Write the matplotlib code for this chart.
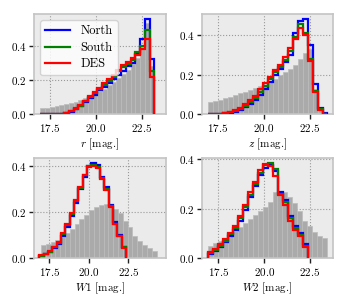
import numpy as np
import matplotlib
matplotlib.use("Agg")
import matplotlib.pyplot as plt
from matplotlib.ticker import MultipleLocator, FixedLocator

plt.rcParams['font.family'] = 'serif'
plt.rcParams['font.serif'] = ['cmr10', 'DejaVu Serif']
plt.rcParams['mathtext.fontset'] = 'cm'
plt.rcParams['axes.formatter.use_mathtext'] = True

labels = ['North', 'South', 'DES']
colors = ['#0000ff', '#008000', '#ff0000']
bands = ['r', 'z', 'W1', 'W2']
xlabels = [r'$r$ [mag.]', r'$z$ [mag.]', r'$W1$ [mag.]', r'$W2$ [mag.]']

# bin edges (grey reference sample and coloured samples)
grey_edges = {
    'r': np.linspace(16.97, 23.2, 25),
    'z': np.linspace(17.0, 23.45, 25),
    'W1': np.linspace(16.97, 24.3, 25),
    'W2': np.linspace(16.96, 23.41, 25),
}
col_edges = {
    'r': np.linspace(16.97, 23.2, 25),
    'z': np.linspace(17.0, 23.45, 25),
    'W1': np.linspace(16.87, 22.37, 21),
    'W2': np.linspace(16.96, 22.4, 21),
}

grey_r = [0.035, 0.04, 0.045, 0.05, 0.055, 0.06, 0.065, 0.075, 0.085, 0.095, 0.105, 0.12,
          0.135, 0.15, 0.17, 0.19, 0.21, 0.235, 0.26, 0.29, 0.33, 0.39, 0.53, 0.28]
north_r = [0, 0, 0, 0.002, 0.004, 0.008, 0.016, 0.03, 0.048, 0.07, 0.095, 0.115,
           0.14, 0.16, 0.18, 0.205, 0.23, 0.255, 0.28, 0.3, 0.35, 0.44, 0.555, 0.32]
south_r = [0, 0, 0, 0.003, 0.005, 0.009, 0.018, 0.033, 0.052, 0.076, 0.1, 0.125,
           0.15, 0.172, 0.195, 0.22, 0.25, 0.275, 0.295, 0.315, 0.36, 0.40, 0.49, 0.255]
des_r = [0, 0, 0, 0.003, 0.005, 0.01, 0.02, 0.035, 0.055, 0.08, 0.105, 0.13,
         0.155, 0.18, 0.205, 0.23, 0.26, 0.285, 0.305, 0.325, 0.345, 0.38, 0.44, 0.215]

grey_z = [0.064, 0.068, 0.075, 0.082, 0.09, 0.098, 0.106, 0.115, 0.125, 0.133, 0.142, 0.15,
          0.165, 0.18, 0.2, 0.215, 0.228, 0.25, 0.28, 0.31, 0.33, 0.13, 0.04, 0.01]
north_z = [0, 0.001, 0.003, 0.006, 0.01, 0.015, 0.025, 0.038, 0.055, 0.075, 0.1, 0.13,
           0.165, 0.2, 0.23, 0.265, 0.3, 0.41, 0.47, 0.48, 0.35, 0.155, 0.035, 0.008]
south_z = [0.001, 0.002, 0.004, 0.008, 0.012, 0.018, 0.03, 0.045, 0.064, 0.085, 0.115, 0.145,
           0.178, 0.212, 0.24, 0.275, 0.32, 0.39, 0.455, 0.41, 0.28, 0.12, 0.03, 0.005]
des_z = [0.001, 0.002, 0.005, 0.01, 0.015, 0.022, 0.035, 0.052, 0.072, 0.095, 0.13, 0.16,
         0.19, 0.225, 0.25, 0.29, 0.335, 0.38, 0.435, 0.40, 0.27, 0.115, 0.025, 0.004]

grey_w1 = [0.055, 0.062, 0.07, 0.08, 0.09, 0.108, 0.128, 0.148, 0.17, 0.188, 0.207, 0.222,
           0.232, 0.236, 0.232, 0.215, 0.197, 0.163, 0.133, 0.096, 0.074, 0.055, 0.045, 0.03]
north_w1 = [0.009, 0.016, 0.026, 0.043, 0.062, 0.097, 0.137, 0.185, 0.24, 0.30, 0.355, 0.40,
            0.415, 0.405, 0.355, 0.31, 0.232, 0.158, 0.1, 0.05]
south_w1 = [0.01, 0.018, 0.028, 0.046, 0.066, 0.103, 0.143, 0.192, 0.247, 0.306, 0.36, 0.40,
            0.405, 0.397, 0.35, 0.3, 0.226, 0.15, 0.097, 0.046]
des_w1 = [0.011, 0.019, 0.03, 0.049, 0.07, 0.108, 0.148, 0.197, 0.252, 0.311, 0.363, 0.396,
          0.40, 0.393, 0.345, 0.296, 0.222, 0.148, 0.096, 0.044]

grey_w2 = [0.05, 0.059, 0.068, 0.082, 0.095, 0.109, 0.127, 0.143, 0.159, 0.173, 0.19, 0.205,
           0.225, 0.265, 0.272, 0.265, 0.245, 0.224, 0.19, 0.15, 0.129, 0.105, 0.089, 0.082]
north_w2 = [0.018, 0.03, 0.045, 0.065, 0.088, 0.115, 0.15, 0.195, 0.245, 0.29, 0.335, 0.365,
            0.375, 0.35, 0.265, 0.235, 0.17, 0.13, 0.1, 0.055]
south_w2 = [0.02, 0.034, 0.05, 0.07, 0.095, 0.123, 0.16, 0.205, 0.255, 0.3, 0.345, 0.375,
            0.385, 0.36, 0.26, 0.225, 0.16, 0.12, 0.093, 0.05]
des_w2 = [0.023, 0.037, 0.055, 0.075, 0.1, 0.129, 0.17, 0.214, 0.265, 0.306, 0.354, 0.381,
          0.372, 0.33, 0.255, 0.215, 0.15, 0.113, 0.088, 0.045]

grey_vals = {'r': grey_r, 'z': grey_z, 'W1': grey_w1, 'W2': grey_w2}
series_vals = {
    'r': [north_r, south_r, des_r],
    'z': [north_z, south_z, des_z],
    'W1': [north_w1, south_w1, des_w1],
    'W2': [north_w2, south_w2, des_w2],
}
xlims = {'r': (16.63, 23.83), 'z': (16.65, 23.75), 'W1': (16.53, 24.9), 'W2': (16.61, 23.75)}
xticks = [17.5, 20.0, 22.5]

W, H = 350, 300
fig = plt.figure(figsize=(W / 100, H / 100), dpi=100)
rects = [(34, 14, 132, 100.5), (202, 14, 131, 100.5),
         (34, 158, 132, 100), (202, 158, 131, 100)]

for i, b in enumerate(bands):
    x0, y0, w, h = rects[i]
    ax = fig.add_axes([x0 / W, 1 - (y0 + h) / H, w / W, h / H])
    ax.set_facecolor('#ebebeb')
    ge = grey_edges[b]
    ax.bar(ge[:-1], grey_vals[b], width=np.diff(ge), align='edge',
           color='#aaaaaa', edgecolor='#bcbcbc', linewidth=0.5, zorder=2)
    ce = col_edges[b]
    for vals, c, lab in zip(series_vals[b], colors, labels):
        ax.stairs(vals, ce, color=c, linewidth=1.6, label=lab, zorder=3)
    ax.set_xlim(*xlims[b])
    ax.xaxis.set_major_locator(FixedLocator(xticks))
    ax.yaxis.set_major_locator(MultipleLocator(0.2))
    ax.grid(True, linestyle=':', color='#999999', linewidth=0.8, zorder=1)
    ax.set_axisbelow(True)
    for s in ax.spines.values():
        s.set_color('#c4c4c4')
        s.set_linewidth(1.2)
    ax.tick_params(axis='both', labelsize=8, length=3.5, width=1.0, color='#222222', pad=2)
    ax.set_xlabel(xlabels[i], fontsize=8, labelpad=2)
    if i == 0:
        ax.legend(loc='upper left', fontsize=9, handlelength=2.0, labelspacing=0.35,
                  borderpad=0.4, handletextpad=0.8)

fig.savefig('out.png', dpi=100)
